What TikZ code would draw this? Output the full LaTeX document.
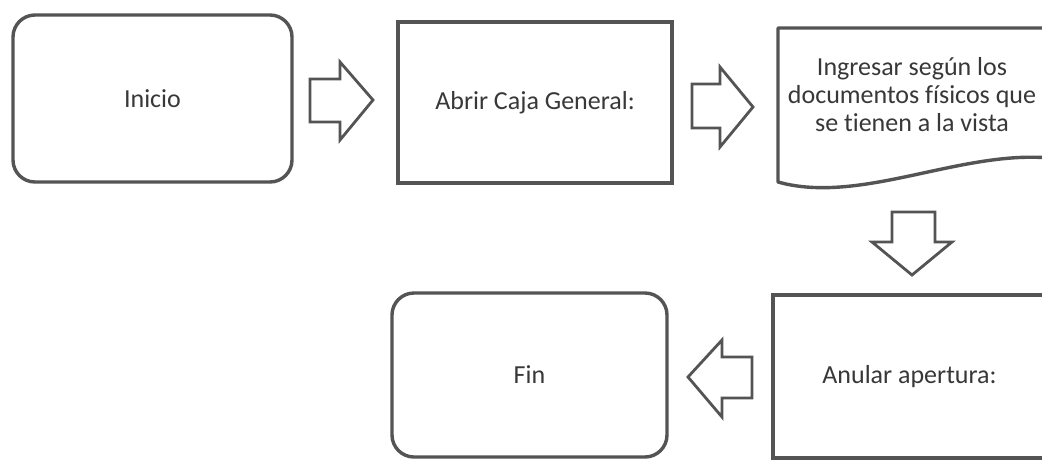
\documentclass[tikz,border=0pt]{standalone}
\usepackage{fontspec}
\setmainfont[Ligatures={NoCommon}]{Carlito}
\definecolor{linegray}{HTML}{545454}
\definecolor{textgray}{HTML}{383838}
\begin{document}
\begin{tikzpicture}[x=1pt,y=-1pt,
  box/.style={draw=linegray, line width=3.4pt, minimum width=#1, inner sep=0pt, text=textgray, font=\fontsize{26}{28}\selectfont},
  roundbox/.style={box=#1, rounded corners=22pt},
  blockarrow/.style={draw=linegray, line width=2.8pt, line join=miter, fill=white},
  doctext/.style={text=textgray, font=\fontsize{26}{28}\selectfont, align=center, inner sep=0pt}]
\useasboundingbox[fill=white] (0,0) rectangle (1042,459);
% nodes
\node[roundbox=279pt, minimum height=167pt] (inicio) at (152.5,98.5) {Inicio};
\node[box=274pt, minimum height=161pt] (abrir) at (535,102.5) {Abrir Caja General:};
\draw[draw=linegray, line width=3.4pt, line join=round]
  (778,28) -- (1050,28) -- (1050,158)
  .. controls (960,150) and (860,205) .. (778,182) -- cycle;
\node[doctext] (doc) at (912,95) {Ingresar según los\\documentos físicos que\\se tienen a la vista};
\node[box=273pt, minimum height=163pt] (anular) at (909.5,376.5) {Anular apertura:};
\node[roundbox=275pt, minimum height=164pt] (fin) at (529.5,375) {Fin};
% block arrows
\draw[blockarrow] (310,79) -- (340,79) -- (340,62) -- (373,100) -- (340,140) -- (340,122) -- (310,122) -- cycle;
\draw[blockarrow] (692,84) -- (720,84) -- (720,67) -- (753,107) -- (720,147) -- (720,128) -- (692,128) -- cycle;
\draw[blockarrow] (892,212) -- (935,212) -- (935,242) -- (952,242) -- (912,275) -- (872,242) -- (892,242) -- cycle;
\draw[blockarrow] (752,357) -- (722,357) -- (722,340) -- (688,377) -- (722,417) -- (722,398) -- (752,398) -- cycle;
\end{tikzpicture}
\end{document}
